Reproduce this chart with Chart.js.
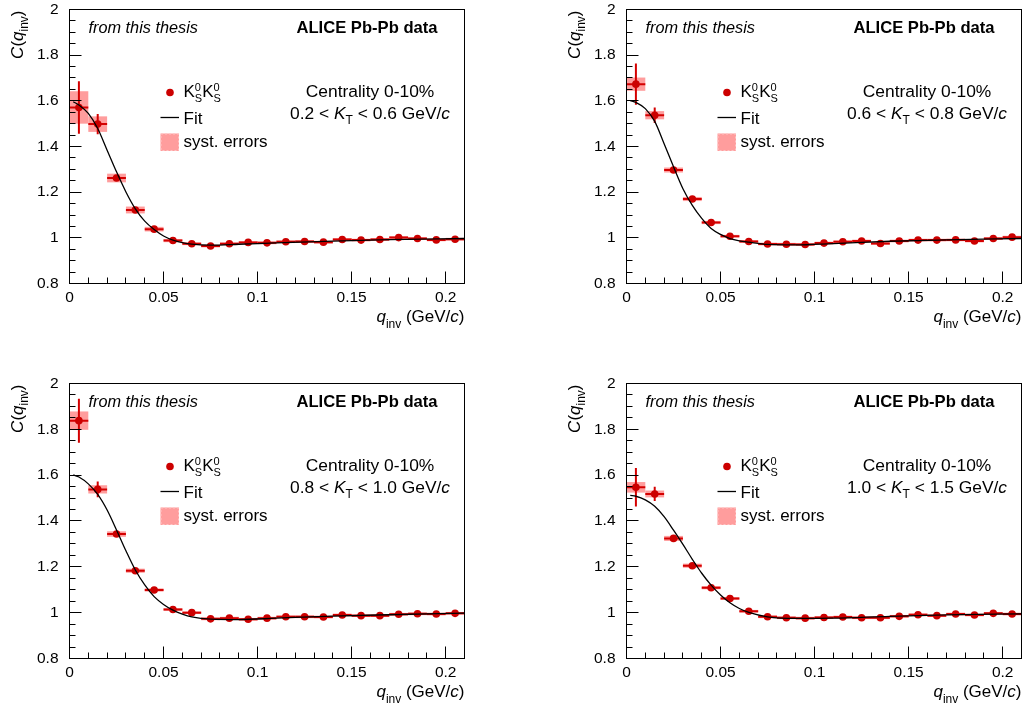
<!DOCTYPE html>
<html>
<head>
<meta charset="utf-8">
<script src="https://cdn.jsdelivr.net/npm/chart.js@4.4.1/dist/chart.umd.min.js"></script>
<style>
html, body { margin: 0; padding: 0; background: #fff; }
canvas { position: absolute; display: block; }
</style>
</head>
<body>
<canvas id="c0" width="514" height="352" style="left:0;top:0"></canvas>
<canvas id="c1" width="515" height="352" style="left:514px;top:0"></canvas>
<canvas id="c2" width="514" height="354" style="left:0;top:355px"></canvas>
<canvas id="c3" width="515" height="354" style="left:514px;top:355px"></canvas>
<script>
// bin centres of q_inv (GeV/c), bin half width
const qBins = [0.005, 0.015, 0.025, 0.035, 0.045, 0.055, 0.065, 0.075, 0.085, 0.095, 0.105,
               0.115, 0.125, 0.135, 0.145, 0.155, 0.165, 0.175, 0.185, 0.195, 0.205];
const binHalf = 0.005;

// kT ranges per panel
const ktRanges = [['0.2', '0.6'], ['0.6', '0.8'], ['0.8', '1.0'], ['1.0', '1.5']];

// C(q_inv) values
const cKt1 = [1.571, 1.498, 1.262, 1.122, 1.038, 0.988, 0.974, 0.964, 0.974, 0.980, 0.978,
              0.983, 0.984, 0.981, 0.993, 0.990, 0.993, 1.001, 0.997, 0.991, 0.994];
const cKt2 = [1.673, 1.537, 1.297, 1.170, 1.067, 1.007, 0.984, 0.973, 0.972, 0.971, 0.977,
              0.983, 0.986, 0.975, 0.986, 0.990, 0.990, 0.991, 0.986, 0.997, 1.003];
const cKt3 = [1.838, 1.538, 1.343, 1.183, 1.099, 1.014, 1.000, 0.973, 0.976, 0.971, 0.976,
              0.982, 0.982, 0.981, 0.990, 0.987, 0.987, 0.993, 0.995, 0.994, 0.997];
const cKt4 = [1.547, 1.518, 1.324, 1.205, 1.109, 1.062, 1.006, 0.982, 0.978, 0.976, 0.979,
              0.981, 0.978, 0.978, 0.984, 0.991, 0.987, 0.994, 0.990, 0.997, 0.994];

// statistical errors
const statKt1 = [0.115, 0.044, 0.012, 0.008, 0.006, 0.005, 0.004, 0.004, 0.004, 0.004, 0.004,
                 0.004, 0.004, 0.004, 0.004, 0.004, 0.004, 0.004, 0.004, 0.004, 0.004];
const statKt2 = [0.090, 0.034, 0.012, 0.008, 0.006, 0.005, 0.004, 0.004, 0.004, 0.004, 0.004,
                 0.004, 0.004, 0.004, 0.004, 0.004, 0.004, 0.004, 0.004, 0.004, 0.004];
const statKt3 = [0.096, 0.034, 0.012, 0.008, 0.006, 0.005, 0.004, 0.004, 0.004, 0.004, 0.004,
                 0.004, 0.004, 0.004, 0.004, 0.004, 0.004, 0.004, 0.004, 0.004, 0.004];
const statKt4 = [0.084, 0.031, 0.012, 0.008, 0.006, 0.005, 0.004, 0.004, 0.004, 0.004, 0.004,
                 0.004, 0.004, 0.004, 0.004, 0.004, 0.004, 0.004, 0.004, 0.004, 0.004];

// systematic errors
const systKt1 = [0.071, 0.034, 0.019, 0.015, 0.010, 0.007, 0.006, 0.006, 0.006, 0.006, 0.006,
                 0.006, 0.006, 0.006, 0.006, 0.006, 0.006, 0.006, 0.006, 0.006, 0.006];
const systKt2 = [0.029, 0.018, 0.011, 0.009, 0.007, 0.006, 0.006, 0.006, 0.006, 0.006, 0.006,
                 0.006, 0.006, 0.006, 0.006, 0.006, 0.006, 0.006, 0.006, 0.006, 0.006];
const systKt3 = [0.040, 0.018, 0.012, 0.009, 0.007, 0.006, 0.006, 0.006, 0.006, 0.006, 0.006,
                 0.006, 0.006, 0.006, 0.006, 0.006, 0.006, 0.006, 0.006, 0.006, 0.006];
const systKt4 = [0.023, 0.015, 0.011, 0.009, 0.007, 0.006, 0.006, 0.006, 0.006, 0.006, 0.006,
                 0.006, 0.006, 0.006, 0.006, 0.006, 0.006, 0.006, 0.006, 0.006, 0.006];

// fit curve
const fitQ = [0.002, 0.005, 0.01, 0.015, 0.02, 0.025, 0.03, 0.035, 0.04, 0.045,
              0.05, 0.055, 0.06, 0.065, 0.075, 0.09, 0.11, 0.14, 0.17, 0.21];
const fitKt1 = [1.596, 1.582, 1.545, 1.479, 1.384, 1.289, 1.201, 1.127, 1.073, 1.036,
                1.008, 0.990, 0.979, 0.972, 0.968, 0.972, 0.978, 0.986, 0.992, 0.997];
const fitKt2 = [1.601, 1.593, 1.566, 1.510, 1.412, 1.311, 1.215, 1.142, 1.085, 1.041,
                1.015, 0.997, 0.987, 0.981, 0.971, 0.969, 0.975, 0.985, 0.991, 0.997];
const fitKt3 = [1.601, 1.592, 1.562, 1.516, 1.448, 1.361, 1.270, 1.186, 1.121, 1.070,
                1.036, 1.011, 0.994, 0.982, 0.972, 0.970, 0.976, 0.985, 0.991, 0.998];
const fitKt4 = [1.512, 1.508, 1.492, 1.464, 1.419, 1.360, 1.298, 1.233, 1.172, 1.120,
                1.077, 1.043, 1.018, 1.001, 0.982, 0.975, 0.976, 0.984, 0.990, 0.995];

// axis ticks
const xTicks = [0, 0.05, 0.1, 0.15, 0.2];
const xTickLabels = ['0', '0.05', '0.1', '0.15', '0.2'];
const yTicks = [0.8, 1, 1.2, 1.4, 1.6, 1.8, 2];
const yTickLabels = ['0.8', '1', '1.2', '1.4', '1.6', '1.8', '2'];

const FONT = '"Liberation Sans", Arial, Helvetica, sans-serif';
const MARKER = '#cc0000';
const ERRBAR = '#d40000';
const SYST = '#ff9d9d';

// draw a row of text pieces: [text, font, dy, 'stack']
function drawRuns(ctx, runs, x, y, align) {
    let w = 0, held = 0;
    runs.forEach(r => {
        ctx.font = r[1];
        const rw = ctx.measureText(r[0]).width;
        if (r[3] === 'stack') { held = rw; return; }
        w += Math.max(rw, held); held = 0;
    });
    let cx = align === 'right' ? x - w : align === 'center' ? x - w / 2 : x;
    ctx.textAlign = 'left';
    ctx.textBaseline = 'alphabetic';
    held = 0;
    runs.forEach(r => {
        ctx.font = r[1];
        ctx.fillText(r[0], cx, y + (r[2] || 0));
        const rw = ctx.measureText(r[0]).width;
        if (r[3] === 'stack') { held = rw; return; }
        cx += Math.max(rw, held); held = 0;
    });
}

function decoPlugin(p) {
    return {
        id: 'deco',
        beforeDatasetsDraw(chart) {
            const ctx = chart.ctx, xs = chart.scales.x, ys = chart.scales.y, a = chart.chartArea;
            ctx.save();
            ctx.beginPath();
            ctx.rect(a.left, a.top, a.right - a.left, a.bottom - a.top);
            ctx.clip();
            // syst boxes
            ctx.fillStyle = SYST;
            qBins.forEach((q, i) => {
                const x0 = xs.getPixelForValue(q - binHalf), x1 = xs.getPixelForValue(q + binHalf);
                const y0 = ys.getPixelForValue(p.c[i] + p.syst[i]), y1 = ys.getPixelForValue(p.c[i] - p.syst[i]);
                ctx.fillRect(x0, y0, x1 - x0, y1 - y0);
            });
            // stat error bars
            ctx.strokeStyle = ERRBAR;
            ctx.lineWidth = 2;
            qBins.forEach((q, i) => {
                const px = xs.getPixelForValue(q), py = ys.getPixelForValue(p.c[i]);
                ctx.beginPath();
                ctx.moveTo(xs.getPixelForValue(q - binHalf), py);
                ctx.lineTo(xs.getPixelForValue(q + binHalf), py);
                ctx.moveTo(px, ys.getPixelForValue(p.c[i] - p.stat[i]));
                ctx.lineTo(px, ys.getPixelForValue(p.c[i] + p.stat[i]));
                ctx.stroke();
            });
            ctx.restore();
        },
        afterDraw(chart) {
            const ctx = chart.ctx, xs = chart.scales.x, ys = chart.scales.y, a = chart.chartArea;
            const L = a.left, T = a.top, R = a.right, B = a.bottom;
            ctx.save();
            // frame
            ctx.strokeStyle = '#000';
            ctx.lineWidth = 1;
            ctx.strokeRect(L, T, R - L, B - T);
            // inward ticks
            ctx.beginPath();
            for (let k = 0; k <= 24; k++) {
                const v = 0.8 + k * 0.05;
                const py = Math.floor(ys.getPixelForValue(v)) + 0.5;
                const len = k % 4 === 0 ? 12 : 6;
                ctx.moveTo(L, py); ctx.lineTo(L + len, py);
            }
            for (let k = 0; k <= 21; k++) {
                const v = k * 0.01;
                const px = Math.floor(xs.getPixelForValue(v)) + 0.5;
                const len = k % 5 === 0 ? 12 : 6;
                ctx.moveTo(px, B); ctx.lineTo(px, B - len);
            }
            ctx.stroke();

            ctx.fillStyle = '#000';
            // axis titles
            drawRuns(ctx, [['q', 'italic 17px ' + FONT], ['inv', '12px ' + FONT, 6],
                           [' (GeV/', '17px ' + FONT], ['c', 'italic 17px ' + FONT], [')', '17px ' + FONT]],
                     R, B + 38.5, 'right');
            ctx.save();
            ctx.translate(L - 47, T + 1);
            ctx.rotate(-Math.PI / 2);
            drawRuns(ctx, [['C', 'italic 17px ' + FONT], ['(', '17px ' + FONT], ['q', 'italic 17px ' + FONT],
                           ['inv', '12px ' + FONT, 5], [')', '17px ' + FONT]], 0, 0, 'right');
            ctx.restore();

            // labels
            drawRuns(ctx, [['from this thesis', 'italic 16.3px ' + FONT]], L + 19, T + 23, 'left');
            drawRuns(ctx, [['ALICE Pb-Pb data', 'bold 16.6px ' + FONT]], R - 27, T + 23, 'right');
            drawRuns(ctx, [['Centrality 0-10%', '17.4px ' + FONT]], L + 300.5, T + 87, 'center');
            drawRuns(ctx, [[p.kt[0] + ' < ', '17.4px ' + FONT], ['K', 'italic 17.4px ' + FONT],
                           ['T', '12px ' + FONT, 5], [' < ' + p.kt[1] + ' GeV/', '17.4px ' + FONT],
                           ['c', 'italic 17.4px ' + FONT]], L + 300.5, T + 109, 'center');

            // legend
            ctx.fillStyle = MARKER;
            ctx.beginPath();
            ctx.arc(L + 100.5, T + 83, 3.8, 0, Math.PI * 2);
            ctx.fill();
            ctx.fillStyle = '#000';
            drawRuns(ctx, [['K', '17px ' + FONT], ['0', '11px ' + FONT, -6.5, 'stack'], ['S', '11px ' + FONT, 4.7],
                           ['K', '17px ' + FONT], ['0', '11px ' + FONT, -6.5, 'stack'], ['S', '11px ' + FONT, 4.7]],
                     L + 114, T + 87.7, 'left');
            ctx.strokeStyle = '#000';
            ctx.lineWidth = 1.3;
            ctx.beginPath();
            ctx.moveTo(L + 91, T + 108); ctx.lineTo(L + 109.5, T + 108);
            ctx.stroke();
            drawRuns(ctx, [['Fit', '17px ' + FONT]], L + 114, T + 114, 'left');
            ctx.fillStyle = SYST;
            ctx.fillRect(L + 91, T + 124, 18.5, 17.5);
            ctx.strokeStyle = '#ffc4c4';
            ctx.lineWidth = 1;
            ctx.setLineDash([2, 2]);
            ctx.strokeRect(L + 91.5, T + 124.5, 17.5, 16.5);
            ctx.setLineDash([]);
            ctx.fillStyle = '#000';
            drawRuns(ctx, [['syst. errors', '17px ' + FONT]], L + 114, T + 137, 'left');
            ctx.restore();
        }
    };
}

function makePanel(p) {
    const cv = document.getElementById(p.id);
    const W = cv.width, H = cv.height;
    new Chart(cv, {
        type: 'scatter',
        data: {
            datasets: [
                {
                    label: 'Fit', type: 'line', showLine: true, fill: false, order: 0,
                    data: fitQ.map((q, i) => ({ x: q, y: p.fit[i] })),
                    borderColor: '#000', borderWidth: 1.3, pointRadius: 0,
                    cubicInterpolationMode: 'monotone'
                },
                {
                    label: 'data', order: 1,
                    data: qBins.map((q, i) => ({ x: q, y: p.c[i] })),
                    backgroundColor: MARKER, borderWidth: 0, pointRadius: 3.8
                }
            ]
        },
        options: {
            responsive: false,
            animation: false,
            events: [],
            layout: { padding: { left: 0, top: p.top, right: W - p.right, bottom: 0 } },
            plugins: { legend: { display: false }, tooltip: { enabled: false } },
            scales: {
                x: {
                    type: 'linear', min: 0, max: 0.21,
                    grid: { display: false }, border: { display: false },
                    afterBuildTicks: s => { s.ticks = xTicks.map(v => ({ value: v })); },
                    afterFit: s => { s.height = H - p.bottom; s.paddingLeft = 0; s.paddingRight = 0; },
                    ticks: {
                        autoSkip: false, maxRotation: 0, padding: -3.5, color: '#000',
                        font: { family: FONT, size: 15.5 },
                        callback: v => xTickLabels[xTicks.indexOf(v)]
                    }
                },
                y: {
                    type: 'linear', min: 0.8, max: 2,
                    grid: { display: false }, border: { display: false },
                    afterBuildTicks: s => { s.ticks = yTicks.map(v => ({ value: v })); },
                    afterFit: s => { s.width = p.left; s.paddingTop = 0; s.paddingBottom = 0; },
                    ticks: {
                        autoSkip: false, padding: 3, color: '#000',
                        font: { family: FONT, size: 15.5 },
                        callback: v => yTickLabels[yTicks.indexOf(v)]
                    }
                }
            }
        },
        plugins: [decoPlugin(p)]
    });
}

makePanel({ id: 'c0', left: 69.5, right: 464.5, top: 9.5, bottom: 283.5,
            c: cKt1, stat: statKt1, syst: systKt1, fit: fitKt1, kt: ktRanges[0] });
makePanel({ id: 'c1', left: 112.5, right: 507.5, top: 9.5, bottom: 283.5,
            c: cKt2, stat: statKt2, syst: systKt2, fit: fitKt2, kt: ktRanges[1] });
makePanel({ id: 'c2', left: 69.5, right: 464.5, top: 28.5, bottom: 303.5,
            c: cKt3, stat: statKt3, syst: systKt3, fit: fitKt3, kt: ktRanges[2] });
makePanel({ id: 'c3', left: 112.5, right: 507.5, top: 28.5, bottom: 303.5,
            c: cKt4, stat: statKt4, syst: systKt4, fit: fitKt4, kt: ktRanges[3] });
</script>
</body>
</html>
